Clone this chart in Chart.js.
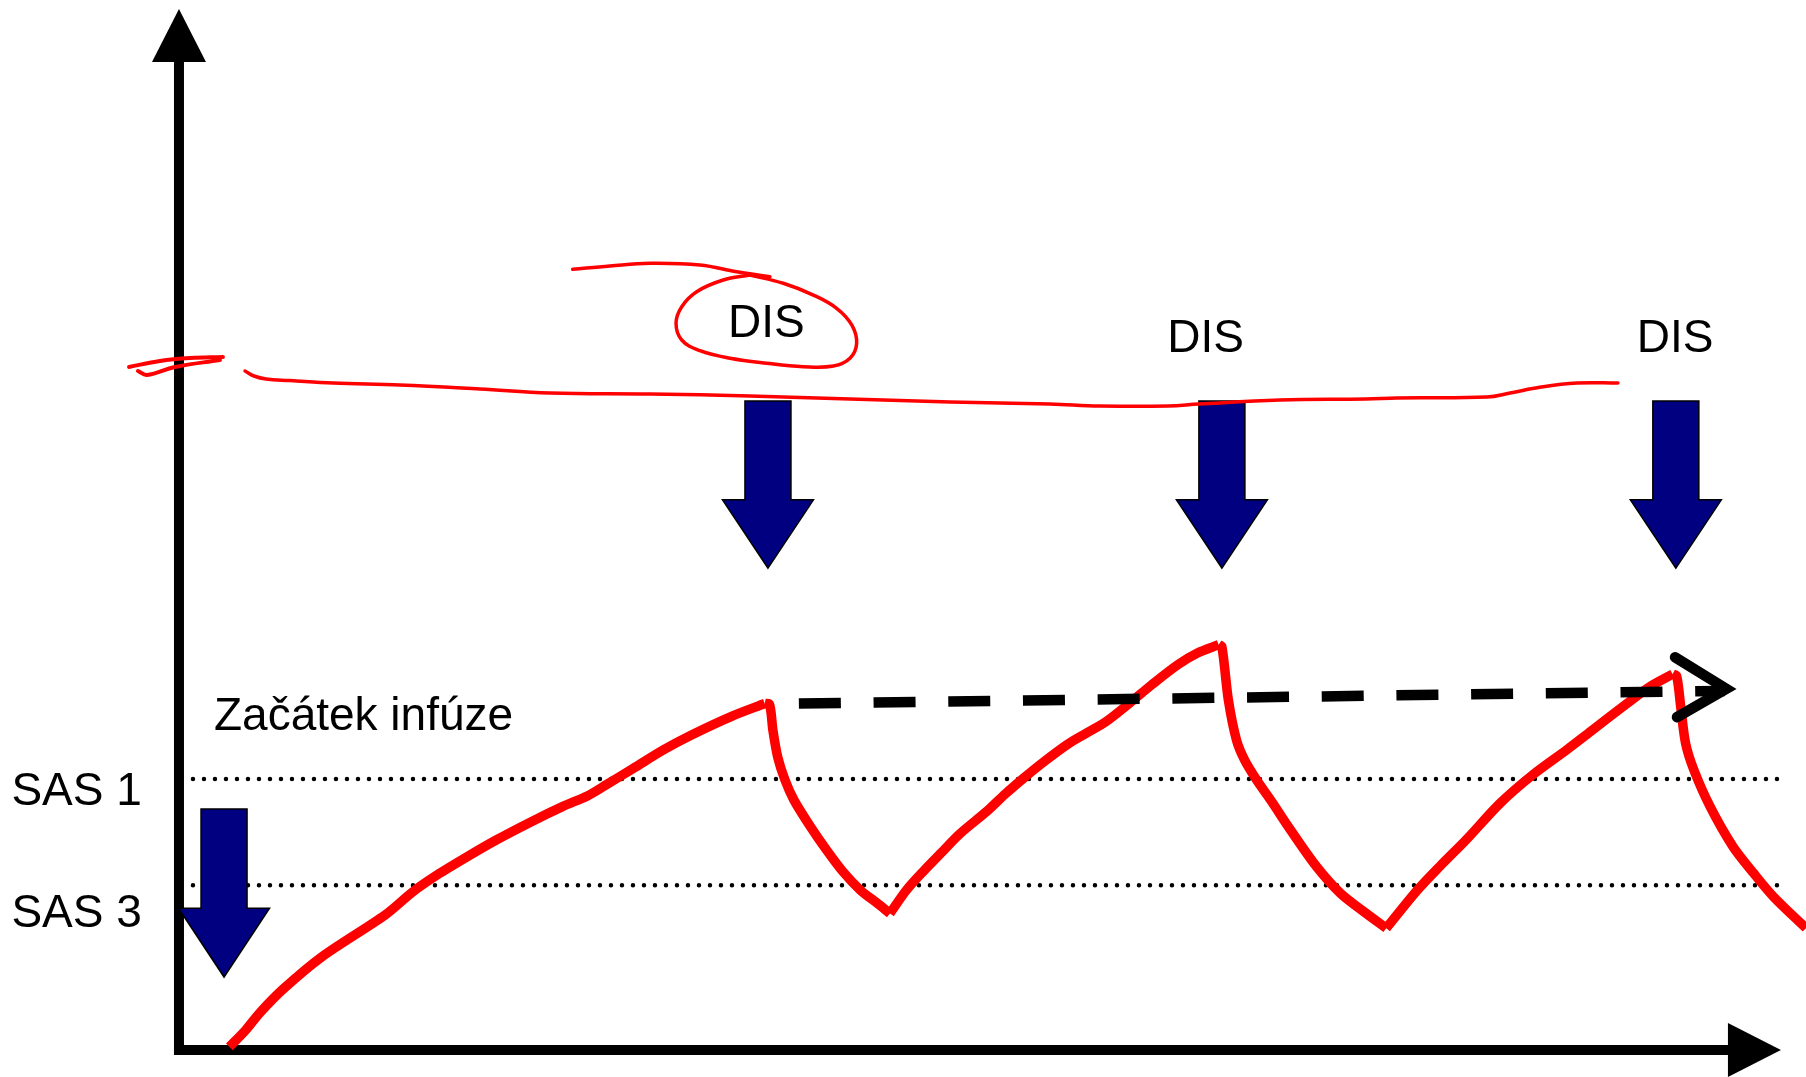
<!DOCTYPE html>
<html lang="cs">
<head>
<meta charset="utf-8">
<title>Začátek infúze – DIS</title>
<script src="https://cdn.jsdelivr.net/npm/chart.js@4.4.1/dist/chart.umd.min.js"></script>
<style>
  html, body { margin: 0; padding: 0; background: #fff; }
  #wrap { position: relative; width: 1806px; height: 1077px; }
</style>
</head>
<body>
<div id="wrap"><canvas id="chart"></canvas></div>
<script>
// --- Data: time on x (0..100), level on y (0..100) ---
const timePts = [
  3.1, 4.1, 5.0, 6.4, 8.8, 12.7, 14.4, 16.0, 17.7, 19.5, 21.6, 23.6, 25.1, 26.3, 27.9, 29.8, 31.5, 34.0, 36.0,
  36.3, 36.5, 36.8, 37.25, 37.8, 38.8, 39.8, 40.8, 41.9, 42.9, 43.7,
  44.7, 45.8, 46.8, 48.0, 49.7, 50.8, 52.0, 53.2, 54.6, 55.8, 57.0, 58.4, 59.8, 61.4, 62.6, 63.9,
  64.1, 64.5, 65.0, 65.5, 66.2, 67.1, 68.3, 69.9, 71.4, 72.8, 74.2,
  76.1, 77.5, 79.1, 81.2, 83.2, 85.3, 86.9, 89.0, 90.4, 91.8,
  92.05, 92.3, 92.6, 93.1, 94.1, 95.5, 96.8, 98.0, 100.0
];
const levelPts = [
  0.3, 1.9, 3.6, 5.8, 8.9, 12.9, 15.1, 16.8, 18.4, 20.0, 21.7, 23.2, 24.2, 25.3, 26.8, 28.6, 30.0, 31.8, 33.0,
  32.9, 30.5, 27.9, 25.7, 23.8, 21.3, 19.05, 17.0, 15.2, 14.0, 13.0,
  15.2, 17.1, 18.7, 20.6, 22.8, 24.4, 26.0, 27.5, 29.1, 30.2, 31.3, 33.0, 34.8, 36.7, 37.8, 38.6,
  38.4, 33.3, 29.5, 27.6, 25.8, 23.8, 21.0, 17.5, 14.9, 13.2, 11.6,
  15.2, 17.5, 20.0, 23.5, 26.2, 28.6, 30.5, 33.0, 34.6, 35.8,
  35.6, 32.7, 29.2, 26.7, 23.2, 19.4, 16.8, 14.6, 11.6
];

// threshold lines
const sasLabels = ['SAS 1', 'SAS 3'];
const sasLevels = [25.8, 15.7];
const sasRange = [0.86, 98.4];
const sasLabelTime = -10.3;
const sasLabelLevels = [23.3, 11.7];

// dashed trend with open arrow
const trendTimes = [38.1, 95.0];
const trendLevels = [33.0, 34.2];
const trendHeadTimes = [91.95, 95.1, 92.07];
const trendHeadLevels = [37.4, 34.4, 31.7];

// dose arrows
const disLabel = 'DIS';
const disTimes = [36.2, 64.1, 92.0];
const disArrowLevels = [61.8, 52.4, 45.9];     // top, neck, tip
const disLabelTimes = [36.1, 63.1, 91.95];
const disLabelLevels = [67.9, 66.5, 66.5];

const startLabel = 'Začátek infúze';
const startTime = 2.77;
const startArrowLevels = [22.95, 13.5, 6.95];
const startLabelAt = [2.15, 30.5];

// axis ends (arrow tips)
const xAxisEnd = 98.46;
const yAxisEnd = 99.14;

// hand-drawn red marks
const markAx = [-3.07, -1.17, 0.68, 2.70];
const markAy = [65.05, 65.62, 65.90, 66.0];
const markBx = [-2.52, -1.97, -0.25, 2.52];
const markBy = [64.67, 64.29, 65.05, 65.71];
const underlineX = [4.06, 4.61, 5.35, 6.82, 9.47, 13.58, 18.50, 22.80, 28.95, 35.10, 41.24, 47.39,
  53.53, 56.61, 60.79, 62.69, 67.67, 72.96, 74.86, 80.39, 81.81, 83.71, 85.93, 88.44];
const underlineY = [64.67, 64.19, 63.90, 63.76, 63.52, 63.33, 62.95, 62.57, 62.48, 62.29, 62.0, 61.71,
  61.52, 61.33, 61.33, 61.52, 61.90, 62.0, 62.10, 62.19, 62.57, 63.14, 63.52, 63.52];
const strokeX = [24.20, 26.49, 28.95, 32.02, 34.28, 36.32];
const strokeY = [74.35, 74.67, 74.92, 74.76, 74.12, 73.65];
const loopX = [35.09, 33.45, 31.82, 30.90, 30.55, 30.90, 32.02, 33.87, 36.12, 38.37, 40.22, 41.24,
  41.65, 41.35, 40.42, 38.99, 37.14, 35.09];
const loopY = [73.81, 73.33, 72.22, 70.79, 69.21, 67.62, 66.60, 65.88, 65.40, 65.08, 65.14, 65.88,
  67.30, 69.05, 70.64, 71.90, 73.02, 73.81];

// --- Helpers ---
const FONT = '46px "Liberation Sans", Arial, sans-serif';
const NAVY = '#000080';
const RED = '#ff0000';

function pts(xs, ys) {
  return xs.map((v, i) => ({ x: v, y: ys[i] }));
}

// cut the level curve at each peak/trough so the corners stay sharp
function splitAtTurns(xs, ys) {
  const segs = [];
  let cur = [{ x: xs[0], y: ys[0] }];
  let dir = 0;
  for (let i = 1; i < xs.length; i++) {
    const d = Math.sign(ys[i] - ys[i - 1]);
    if (dir !== 0 && d !== dir) {
      segs.push(cur);
      cur = [{ x: xs[i - 1], y: ys[i - 1] }];
    }
    dir = d;
    cur.push({ x: xs[i], y: ys[i] });
  }
  segs.push(cur);
  return segs;
}

function drawDownArrow(ctx, xs, ys, t, levels) {
  const cx = xs.getPixelForValue(t);
  const top = ys.getPixelForValue(levels[0]);
  const neck = ys.getPixelForValue(levels[1]);
  const tip = ys.getPixelForValue(levels[2]);
  const shaft = 23, head = 45.5;
  ctx.beginPath();
  ctx.moveTo(cx - shaft, top);
  ctx.lineTo(cx + shaft, top);
  ctx.lineTo(cx + shaft, neck);
  ctx.lineTo(cx + head, neck);
  ctx.lineTo(cx, tip);
  ctx.lineTo(cx - head, neck);
  ctx.lineTo(cx - shaft, neck);
  ctx.closePath();
  ctx.fill();
  ctx.stroke();
}

// --- Plugin: axes, arrows, labels ---
const diagramPlugin = {
  id: 'diagram',
  beforeDatasetsDraw(chart) {
    const { ctx, scales: { x, y } } = chart;
    const x0 = x.getPixelForValue(0);
    const y0 = y.getPixelForValue(0);
    const yTip = y.getPixelForValue(yAxisEnd);
    const xTip = x.getPixelForValue(xAxisEnd);
    ctx.save();
    ctx.strokeStyle = '#000';
    ctx.fillStyle = '#000';
    ctx.lineWidth = 10;
    ctx.beginPath();
    ctx.moveTo(x0, y0 + 5);
    ctx.lineTo(x0, yTip + 50);
    ctx.moveTo(x0 - 5, y0);
    ctx.lineTo(xTip - 50, y0);
    ctx.stroke();
    ctx.beginPath();
    ctx.moveTo(x0, yTip);
    ctx.lineTo(x0 + 27, yTip + 53);
    ctx.lineTo(x0 - 27, yTip + 53);
    ctx.closePath();
    ctx.fill();
    ctx.beginPath();
    ctx.moveTo(xTip, y0);
    ctx.lineTo(xTip - 53, y0 - 27);
    ctx.lineTo(xTip - 53, y0 + 27);
    ctx.closePath();
    ctx.fill();
    ctx.restore();
  },
  afterDatasetDraw(chart, args) {
    // arrows go above the dotted lines, below the red marks
    if (chart.data.datasets[args.index].label !== 'SAS 3') return;
    const { ctx, scales: { x, y } } = chart;
    ctx.save();
    ctx.fillStyle = NAVY;
    ctx.strokeStyle = '#000';
    ctx.lineWidth = 1.5;
    ctx.lineJoin = 'miter';
    disTimes.forEach(t => drawDownArrow(ctx, x, y, t, disArrowLevels));
    drawDownArrow(ctx, x, y, startTime, startArrowLevels);
    ctx.restore();
  },
  afterDraw(chart) {
    const { ctx, scales: { x, y } } = chart;
    ctx.save();
    ctx.font = FONT;
    ctx.fillStyle = '#000';
    ctx.textBaseline = 'alphabetic';
    ctx.textAlign = 'center';
    disLabelTimes.forEach((t, i) => {
      ctx.fillText(disLabel, x.getPixelForValue(t), y.getPixelForValue(disLabelLevels[i]));
    });
    ctx.textAlign = 'left';
    ctx.fillText(startLabel, x.getPixelForValue(startLabelAt[0]), y.getPixelForValue(startLabelAt[1]));
    sasLabels.forEach((s, i) => {
      ctx.fillText(s, x.getPixelForValue(sasLabelTime), y.getPixelForValue(sasLabelLevels[i]));
    });
    ctx.restore();
  }
};

// --- Chart ---
const common = { pointRadius: 0, fill: false, clip: false, tension: 0 };
const redMark = { ...common, borderColor: RED, borderWidth: 3.5, borderCapStyle: 'round', borderJoinStyle: 'round', tension: 0.4, order: 0 };

const levelSets = splitAtTurns(timePts, levelPts).map((seg, i) => ({
  ...common, label: 'level ' + (i + 1), data: seg,
  borderColor: RED, borderWidth: 9.5, borderCapStyle: 'butt', borderJoinStyle: 'round', tension: 0.3, order: 4
}));

new Chart(document.getElementById('chart'), {
  type: 'line',
  data: {
    datasets: [
      { ...common, label: 'SAS 1', data: pts(sasRange, [sasLevels[0], sasLevels[0]]),
        borderColor: '#000', borderWidth: 4.5, borderDash: [0, 11], borderCapStyle: 'round', order: 6 },
      { ...common, label: 'SAS 3', data: pts(sasRange, [sasLevels[1], sasLevels[1]]),
        borderColor: '#000', borderWidth: 4.5, borderDash: [0, 11], borderCapStyle: 'round', order: 5 },
      ...levelSets,
      { ...common, label: 'trend', data: pts(trendTimes, trendLevels),
        borderColor: '#000', borderWidth: 10.5, borderDash: [42, 32.7], borderCapStyle: 'butt', order: 3 },
      { ...common, label: 'trend head', data: pts(trendHeadTimes, trendHeadLevels),
        borderColor: '#000', borderWidth: 10.5, borderCapStyle: 'round', borderJoinStyle: 'miter', order: 2 },
      { ...redMark, label: 'mark a', data: pts(markAx, markAy), borderWidth: 4 },
      { ...redMark, label: 'mark b', data: pts(markBx, markBy), borderWidth: 4 },
      { ...redMark, label: 'underline', data: pts(underlineX, underlineY) },
      { ...redMark, label: 'stroke', data: pts(strokeX, strokeY) },
      { ...redMark, label: 'loop', data: pts(loopX, loopY) }
    ]
  },
  options: {
    responsive: true,
    maintainAspectRatio: false,
    devicePixelRatio: 1,
    animation: false,
    events: [],
    layout: { padding: { left: 0, right: 0, top: 0, bottom: 27 } },
    plugins: { legend: { display: false }, tooltip: { enabled: false } },
    scales: {
      // the range left of 0 holds the level labels and the y-axis marks
      x: { type: 'linear', min: -11, max: 100, display: false },
      y: { type: 'linear', min: 0, max: 100, display: false }
    }
  },
  plugins: [diagramPlugin]
});
</script>
</body>
</html>
